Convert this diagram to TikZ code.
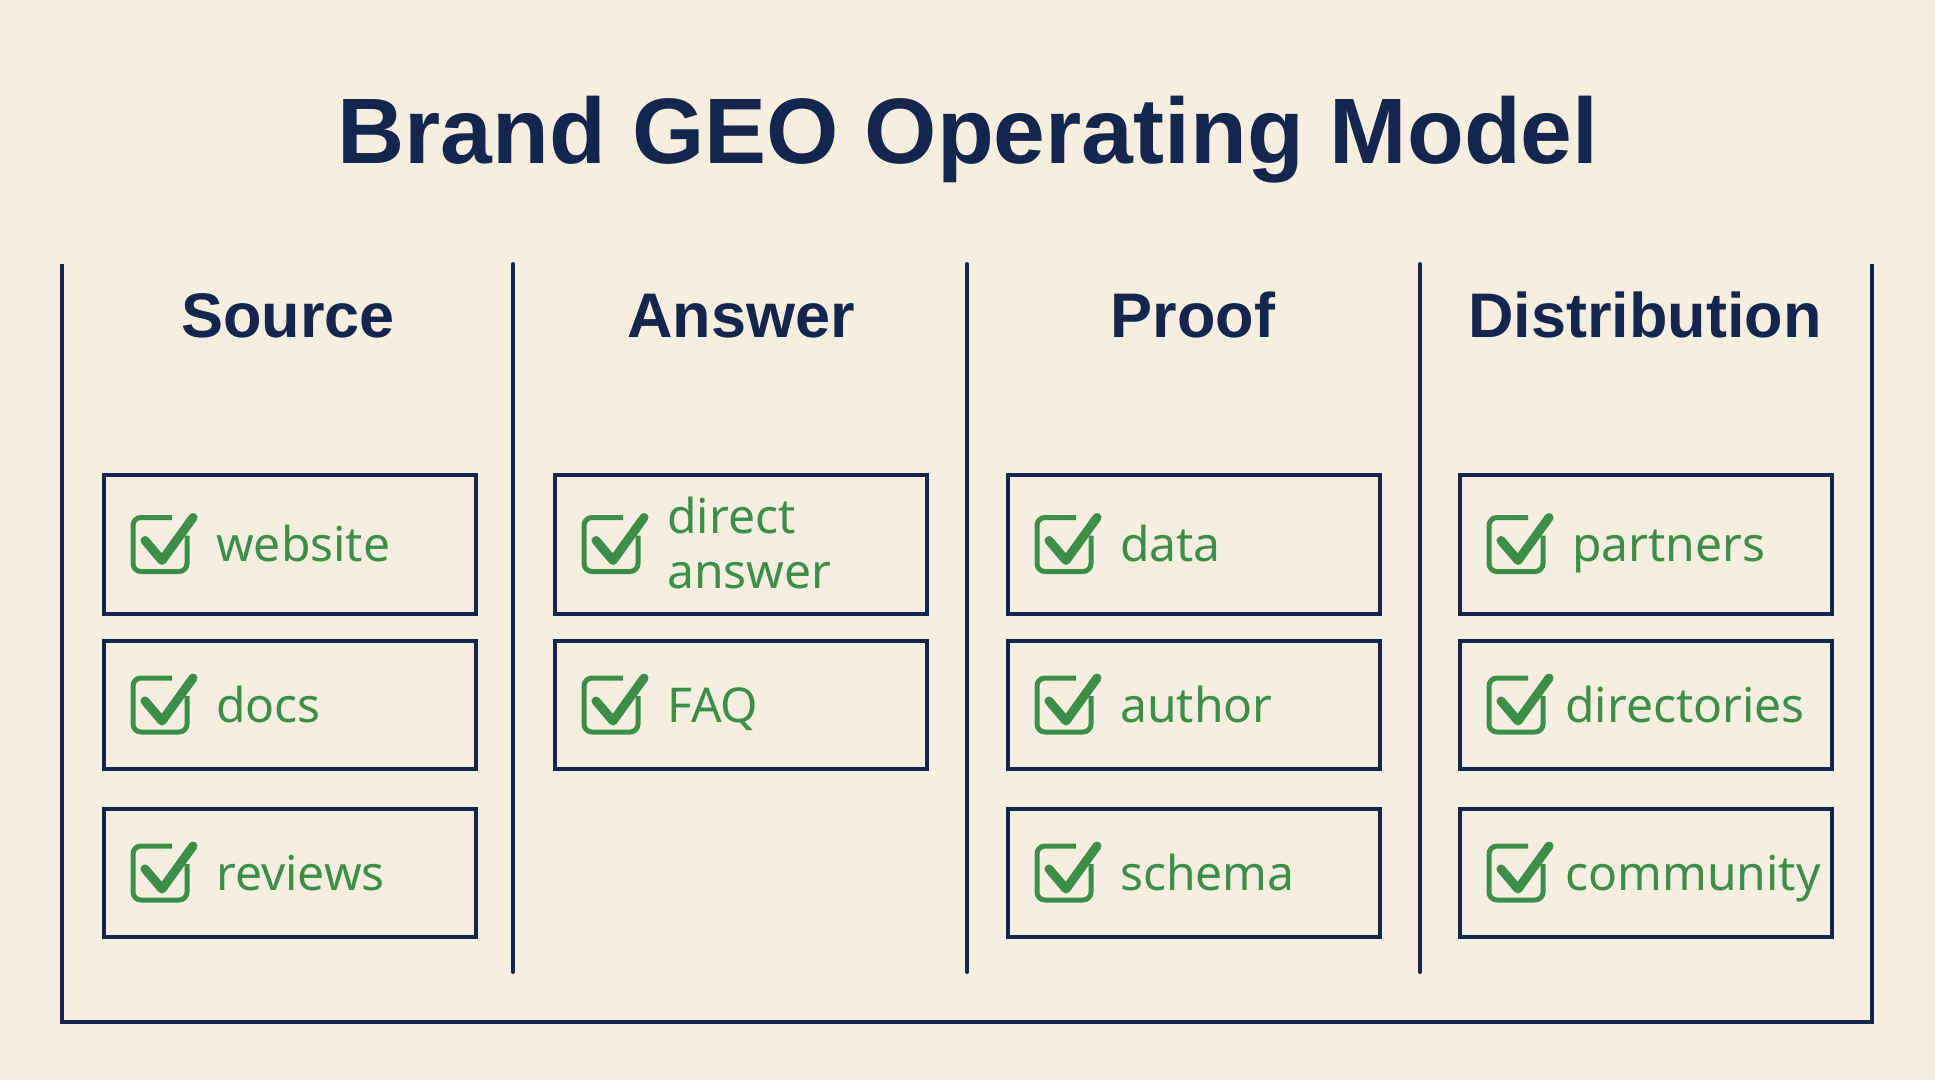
\documentclass[tikz,border=0pt]{standalone}
\usepackage{fontspec}
\setmainfont{Liberation Sans}
\newfontfamily\itemfont{Noto Sans}
\usetikzlibrary{calc}
\definecolor{bg}{HTML}{F6EFDF}
\definecolor{navy}{HTML}{14264D}
\definecolor{okgreen}{HTML}{3E8E4B}
\tikzset{
  itembox/.style={draw=navy, line width=4pt, minimum width=372pt, anchor=north west, inner sep=0pt, outer sep=0pt},
  itemtext/.style={text=okgreen, font=\itemfont\fontsize{48}{55}\selectfont, inner sep=0pt, align=left},
  headtext/.style={text=navy, font=\bfseries\fontsize{63}{70}\selectfont, anchor=base, inner sep=0pt},
  frameline/.style={draw=navy, line width=4pt},
  chk/.pic={
    \draw[okgreen, line width=5pt, rounded corners=8pt] (39,0) -- (0,0) -- (0,54) -- (54,54) -- (54,18);
    \draw[okgreen, line width=9pt, line cap=round, line join=round] (12,23) -- (29,43) -- (60,0);
  }
}
% #1 name, #2 left, #3 top, #4 height, #5 text offset (x,y), #6 text
\newcommand{\chkbox}[6]{%
  \node[itembox, minimum height=#4pt] (#1) at (#2,#3) {};
  \pic at ($(#1.west)+(29,-27)$) {chk};
  \node[itemtext, anchor=base west] (#1-t) at ($(#1.west)+(#5)$) {#6};
}
\begin{document}
\begin{tikzpicture}[x=1pt,y=-1pt]
\fill[bg] (0,0) rectangle (1935,1080);
\useasboundingbox (0,0) rectangle (1935,1080);

\node[text=navy, font=\bfseries\fontsize{93}{100}\selectfont, anchor=base, inner sep=0pt] (title) at (968,163) {Brand GEO Operating Model};

% frame
\coordinate (ftl) at (62,264);
\coordinate (fbl) at (62,1022);
\coordinate (fbr) at (1872,1022);
\coordinate (ftr) at (1872,264);
\draw[frameline] (ftl) -- (fbl) -- (fbr) -- (ftr);
\foreach \x [count=\i] in {513,967,1420} {
  \coordinate (dt\i) at (\x,264);
  \coordinate (db\i) at (\x,972);
  \draw[frameline, line cap=round] (dt\i) -- (db\i);
}

% headers
\node[headtext] (h1) at (288,337) {Source};
\node[headtext] (h2) at (741,337) {Answer};
\node[headtext] (h3) at (1193,337) {Proof};
\node[headtext] (h4) at (1645,337) {Distribution};

% column 1
\chkbox{s1}{104}{475}{139}{112,17}{website}
\chkbox{s2}{104}{641}{128}{112,17}{docs}
\chkbox{s3}{104}{809}{128}{112,17}{reviews}
% column 2
\chkbox{a1}{555}{475}{139}{112,44}{direct\\answer}
\chkbox{a2}{555}{641}{128}{112,17}{FAQ}
% column 3
\chkbox{p1}{1008}{475}{139}{112,17}{data}
\chkbox{p2}{1008}{641}{128}{112,17}{author}
\chkbox{p3}{1008}{809}{128}{112,17}{schema}
% column 4
\chkbox{d1}{1460}{475}{139}{112,17}{partners}
\chkbox{d2}{1460}{641}{128}{105,17}{directories}
\chkbox{d3}{1460}{809}{128}{105,17}{community}
\end{tikzpicture}
\end{document}
